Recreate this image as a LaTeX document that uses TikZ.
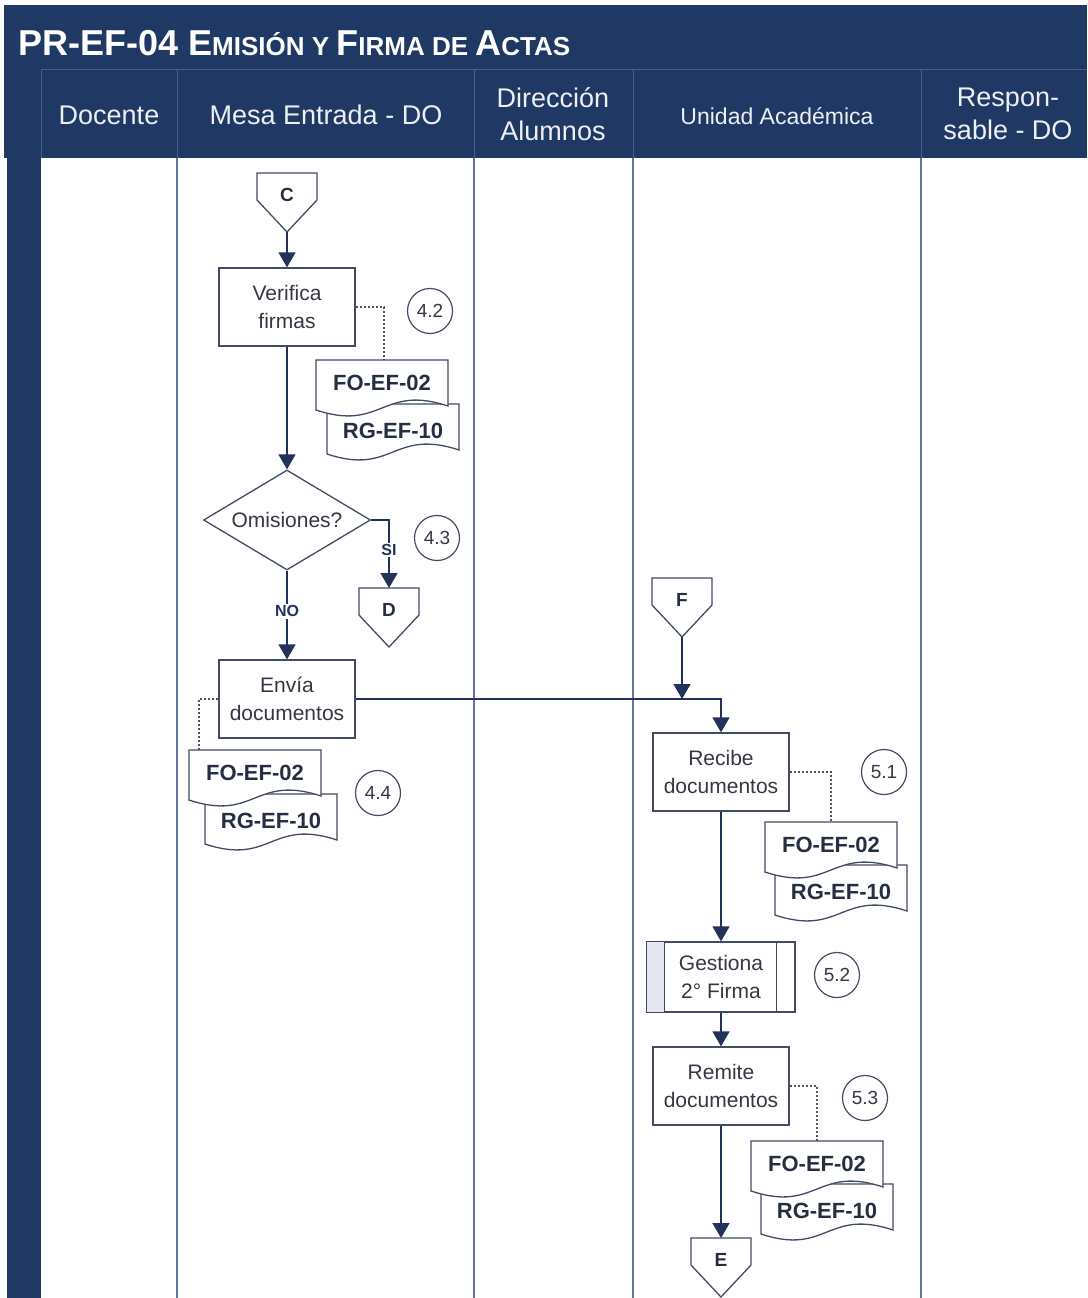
\documentclass[tikz,border=0pt]{standalone}
\usepackage{fontspec}
\setmainfont{Liberation Sans}
\usetikzlibrary{arrows.meta,shapes.geometric}
\definecolor{navy}{RGB}{31,56,100}
\definecolor{navyline}{RGB}{72,94,138}
\definecolor{laneline}{RGB}{105,115,160}
\definecolor{shapeborder}{RGB}{65,75,100}
\definecolor{arrowc}{RGB}{35,50,90}
\definecolor{txt}{RGB}{55,55,68}
\definecolor{doctxt}{RGB}{38,46,68}
\definecolor{dotc}{RGB}{80,80,95}
\definecolor{stripc}{RGB}{228,230,240}
\newcommand{\TitBig}[1]{{\fontsize{36}{40}\selectfont #1}}
\newcommand{\TitSm}[1]{{\fontsize{26}{30}\selectfont #1}}
\tikzset{
  x=1pt, y=-1pt,
  procbox/.style={draw=shapeborder, line width=1.3pt, fill=white, minimum width=136pt, minimum height=78pt, align=center, text=txt, font=\fontsize{21}{28}\selectfont, inner sep=0pt},
  circnum/.style={circle, draw=shapeborder, line width=1.2pt, fill=white, minimum size=45pt, inner sep=0pt, text=txt, font=\fontsize{19}{21}\selectfont},
  flow/.style={draw=arrowc, line width=1.6pt, -{Triangle[width=17pt,length=15pt]}},
  dotlink/.style={draw=dotc, line width=1.6pt, dash pattern=on 2pt off 2pt},
  yn/.style={fill=white, inner sep=1.5pt, font=\bfseries\fontsize{16}{17}\selectfont, text=arrowc},
  doclabel/.style={font=\bfseries\fontsize{22}{24}\selectfont, text=doctxt, inner sep=0pt},
  connlabel/.style={font=\bfseries\fontsize{19}{20}\selectfont, text=doctxt, inner sep=0pt},
  lanehead/.style={text=white!92!navy, align=center, font=\fontsize{27}{33}\selectfont, inner sep=0pt},
  docline/.style={draw=shapeborder, line width=1.3pt, fill=white},
}
\newcommand{\docshape}[4]{%
  \draw[docline] (#1,#2) -- (#1+#3,#2) -- (#1+#3,#2+#4-4)
    .. controls (#1+0.5*#3,#2+#4-26) and (#1+0.5*#3,#2+#4+22) .. (#1,#2+#4) -- cycle;}
\newcommand{\docpair}[6]{%
  \docshape{#2+#4}{#3+#5}{132}{50}
  \node[doclabel] (#1-back) at (#2+#4+66,#3+#5+27) {RG-EF-10};
  \docshape{#2}{#3}{132}{50}
  \node[doclabel] (#1-front) at (#2+66,#3+23) {FO-EF-02};
  \coordinate (#1-link) at (#6,#3);}
\newcommand{\offpage}[4]{%
  \draw[docline] (#2-30,#3) -- (#2+30,#3) -- (#2+30,#3+27) -- (#2,#3+59) -- (#2-30,#3+27) -- cycle;
  \coordinate (#1-top) at (#2,#3);
  \coordinate (#1-tip) at (#2,#3+59);
  \node[connlabel] (#1) at (#2,#3+22) {#4};}
\begin{document}
\begin{tikzpicture}
\useasboundingbox (0,0) rectangle (1087,1298);
% background
\fill[white] (0,0) rectangle (1087,1298);
\fill[navy] (4,5) rectangle (1087,158);
\fill[navy] (7,158) rectangle (41,1298);
\draw[navyline, line width=1pt] (41,70) -- (1087,70);
\foreach \xx in {41,177,474,633,921} \draw[navyline, line width=1pt] (\xx,70) -- (\xx,158);
\foreach \xx in {177,474,633,921} \draw[laneline, line width=1.5pt] (\xx,158) -- (\xx,1298);
% title and lane headers
\node[anchor=base west, text=white, inner sep=0pt] (title) at (18,56)
  {\bfseries\TitBig{PR-EF-04 E}\TitSm{MISIÓN Y }\TitBig{F}\TitSm{IRMA DE }\TitBig{A}\TitSm{CTAS}};
\node[lanehead] (h1) at (109,115) {Docente};
\node[lanehead] (h2) at (326,115) {Mesa Entrada - DO};
\node[lanehead] (h3) at (553,114) {Dirección\\Alumnos};
\node[lanehead, font=\fontsize{23}{28}\selectfont] (h4) at (777,116) {Unidad Académica};
\node[lanehead] (h5) at (1008,114) {Respon-\\sable - DO};
% off-page connectors
\offpage{C}{287}{173}{C}
\offpage{D}{389}{588}{D}
\offpage{F}{682}{578}{F}
\offpage{E}{721}{1238}{E}
% process nodes
\node[procbox] (verifica) at (287,307) {Verifica\\firmas};
\node[diamond, draw=shapeborder, line width=1.3pt, fill=white, minimum width=167pt, minimum height=100pt, inner sep=0pt, aspect=1.67, text=txt, font=\fontsize{21}{28}\selectfont] (omis) at (287,520) {Omisiones?};
\node[procbox] (envia) at (287,699) {Envía\\documentos};
\node[procbox] (recibe) at (721,772) {Recibe\\documentos};
\node[procbox, minimum width=148pt, minimum height=70pt] (gestiona) at (721,977) {Gestiona\\2° Firma};
\fill[stripc] ([xshift=0.7pt,yshift=-0.7pt]gestiona.north west) rectangle ([xshift=18pt,yshift=0.7pt]gestiona.south west);
\draw[shapeborder, line width=1.3pt] ([xshift=18pt]gestiona.north west) -- ([xshift=18pt]gestiona.south west);
\draw[shapeborder, line width=1.3pt] ([xshift=-19pt]gestiona.north east) -- ([xshift=-19pt]gestiona.south east);
\node[procbox] (remite) at (721,1086) {Remite\\documentos};
% step numbers
\node[circnum] (n42) at (430,311) {4.2};
\node[circnum] (n43) at (437,538) {4.3};
\node[circnum] (n44) at (378,793) {4.4};
\node[circnum] (n51) at (884,772) {5.1};
\node[circnum] (n52) at (837,975) {5.2};
\node[circnum] (n53) at (865,1098) {5.3};
% documents
\docpair{docA}{316}{360}{11}{44}{384}
\docpair{docB}{189}{750}{16}{44}{199}
\docpair{docC}{765}{822}{10}{43}{831}
\docpair{docD}{751}{1141}{10}{43}{817}
% dotted links
\draw[dotlink] (verifica.east) -| (docA-link);
\draw[dotlink] (envia.west) -| (docB-link);
\draw[dotlink] (recibe.east) -| (docC-link);
\draw[dotlink] (remite.east) -| (docD-link);
% flows
\draw[flow] (C-tip) -- (verifica.north);
\draw[flow] (verifica.south) -- (omis.north);
\draw[flow] (omis.east) -| node[yn, pos=0.72] {SI} (D-top);
\draw[flow] (omis.south) -- node[yn, pos=0.46] {NO} (envia.north);
\draw[flow] (envia.east) -| (recibe.north);
\draw[flow] (F-tip) -- (F-tip |- envia.east);
\draw[flow] (recibe.south) -- (gestiona.north);
\draw[flow] (gestiona.south) -- (remite.north);
\draw[flow] (remite.south) -- (E-top);
\end{tikzpicture}
\end{document}
